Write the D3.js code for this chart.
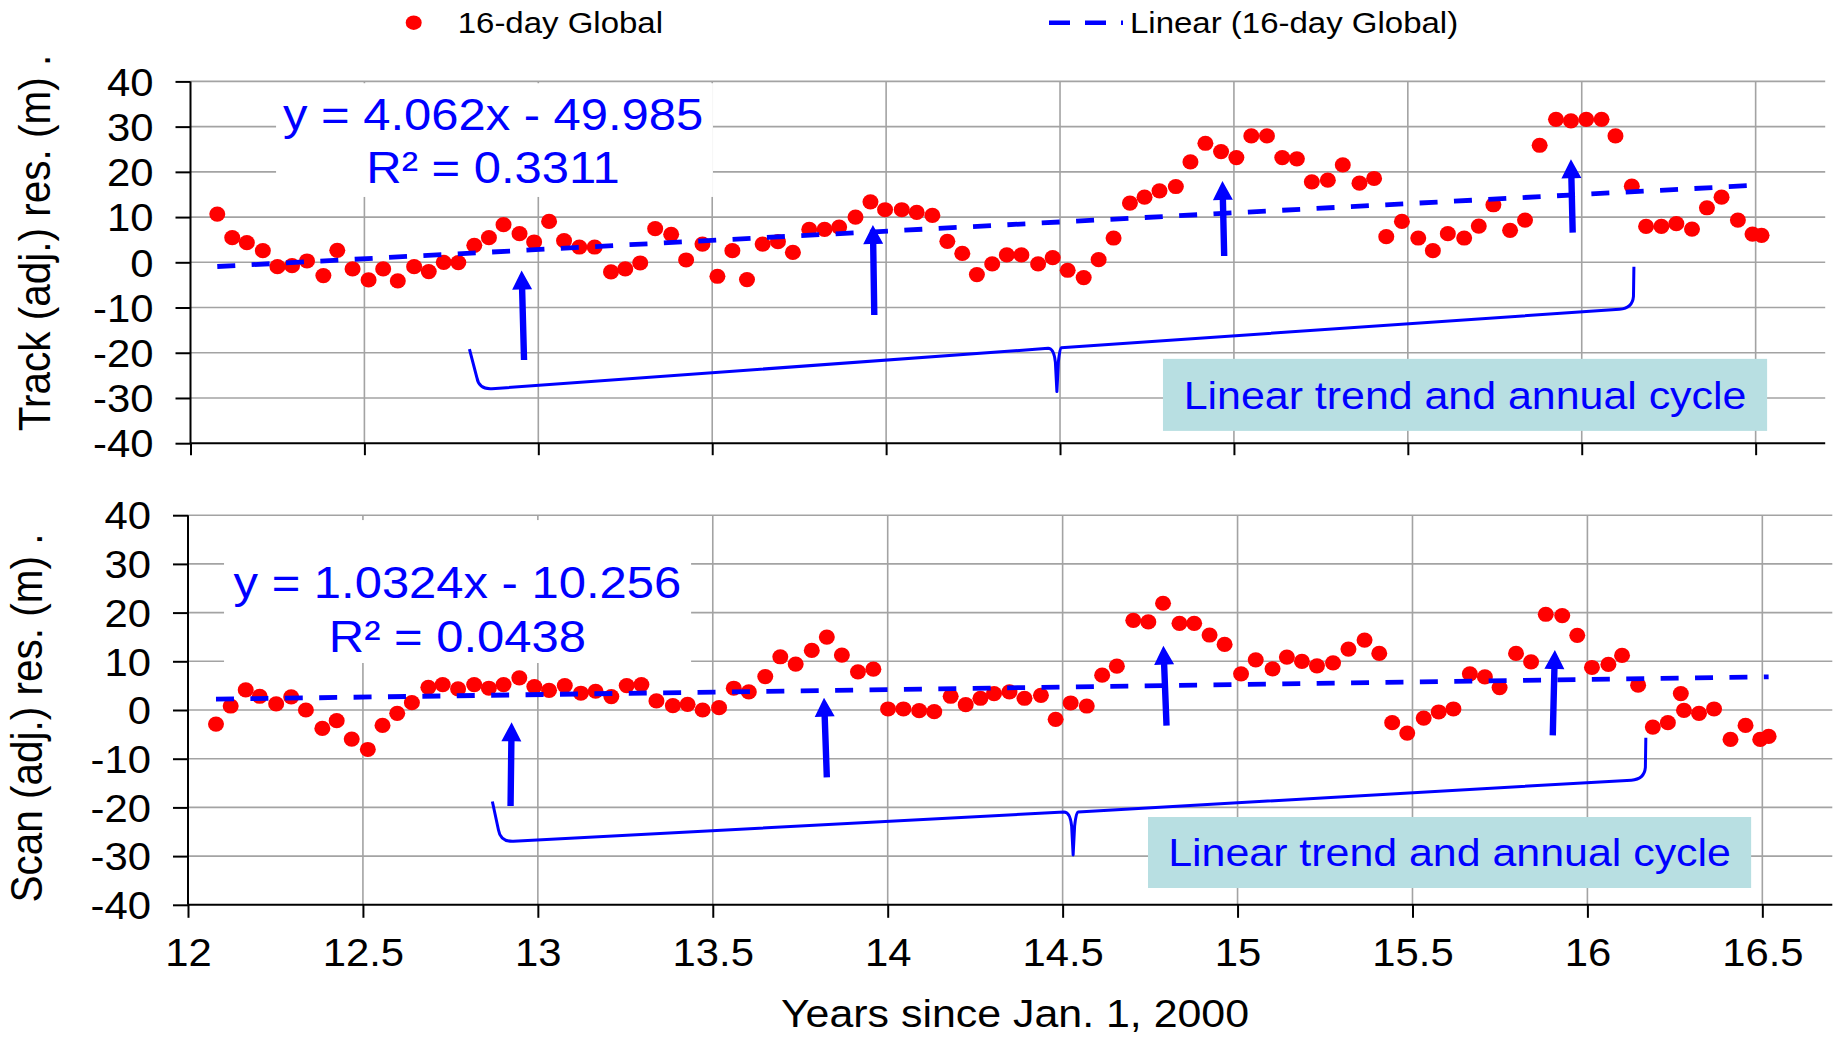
<!DOCTYPE html>
<html>
<head>
<meta charset="utf-8">
<script src="https://cdn.jsdelivr.net/npm/d3@7"></script>
<style>
  body { margin: 0; background: #fff; }
  svg { display: block; }
</style>
</head>
<body>
<svg id="chart" width="1836" height="1038"></svg>
<script>
// ---- data: 16-day global residuals, years since Jan. 1, 2000 ----
const trackYears = [12.077,12.12,12.162,12.208,12.25,12.292,12.335,12.382,12.422,12.466,12.512,12.554,12.596,12.643,12.685,12.728,12.77,12.816,12.858,12.9,12.946,12.988,13.031,13.074,13.118,13.162,13.209,13.25,13.293,13.336,13.382,13.425,13.472,13.515,13.558,13.6,13.645,13.689,13.732,13.779,13.823,13.865,13.912,13.955,13.997,14.045,14.088,14.133,14.176,14.219,14.261,14.305,14.347,14.389,14.437,14.479,14.522,14.568,14.611,14.654,14.701,14.743,14.786,14.833,14.875,14.918,14.963,15.007,15.05,15.095,15.139,15.181,15.224,15.27,15.313,15.361,15.403,15.438,15.483,15.53,15.572,15.615,15.662,15.704,15.746,15.794,15.837,15.879,15.926,15.969,16.013,16.057,16.097,16.144,16.185,16.229,16.272,16.317,16.36,16.402,16.449,16.491,16.517];
const trackValues = [10.66,5.44,4.34,2.57,-0.96,-0.74,0.29,-2.94,2.65,-1.47,-3.9,-1.47,-4.12,-0.96,-2.06,0.0,-0.07,3.75,5.44,8.31,6.32,4.49,9.04,4.78,3.38,3.38,-2.13,-1.47,-0.15,7.43,6.18,0.51,4.04,-3.09,2.57,-3.82,4.04,4.56,2.21,7.28,7.28,7.79,10.0,13.38,11.62,11.62,11.03,10.37,4.63,1.99,-2.72,-0.37,1.62,1.62,-0.37,1.03,-1.76,-3.38,0.59,5.37,13.09,14.41,15.81,16.76,22.2,26.32,24.49,23.16,27.94,27.94,23.16,22.87,17.79,18.16,21.54,17.5,18.53,5.66,9.04,5.37,2.57,6.32,5.37,8.01,12.72,7.06,9.34,25.88,31.62,31.25,31.62,31.62,27.94,16.84,7.94,7.94,8.53,7.35,12.06,14.41,9.34,6.25,5.96];

const scanYears = [12.08,12.122,12.165,12.205,12.252,12.295,12.337,12.384,12.425,12.468,12.514,12.556,12.598,12.64,12.687,12.728,12.772,12.818,12.86,12.902,12.947,12.99,13.032,13.077,13.123,13.165,13.21,13.254,13.296,13.339,13.386,13.428,13.471,13.518,13.56,13.603,13.65,13.693,13.737,13.783,13.826,13.869,13.915,13.959,14.001,14.045,14.09,14.133,14.18,14.223,14.265,14.304,14.348,14.391,14.438,14.48,14.523,14.569,14.613,14.655,14.702,14.745,14.787,14.834,14.876,14.92,14.963,15.01,15.052,15.1,15.141,15.184,15.227,15.273,15.317,15.363,15.405,15.442,15.485,15.532,15.575,15.617,15.664,15.707,15.749,15.796,15.839,15.881,15.928,15.971,16.013,16.06,16.099,16.145,16.187,16.23,16.267,16.276,16.319,16.362,16.409,16.452,16.494,16.518];
const scanValues = [-2.89,0.82,4.12,2.82,1.24,2.68,0,-3.78,-2.2,-5.98,-8.11,-3.16,-0.69,1.51,4.67,5.22,4.33,5.22,4.47,5.22,6.6,4.81,4.05,5.02,3.44,3.85,2.75,5.02,5.22,1.86,0.89,1.17,0,0.48,4.47,3.71,6.87,10.93,9.42,12.23,14.98,11.27,7.84,8.38,0.21,0.21,-0.14,-0.34,2.82,1.1,2.41,3.37,3.71,2.41,3.02,-1.92,1.44,0.82,7.15,9.0,18.42,18.08,21.92,17.8,17.8,15.4,13.47,7.42,10.31,8.45,10.86,9.97,9.07,9.69,12.51,14.36,11.62,-2.61,-4.74,-1.65,-0.41,0.21,7.42,6.8,4.6,11.62,9.9,19.66,19.38,15.33,8.73,9.35,11.2,5.09,-3.51,-2.61,3.37,-0.07,-0.69,0.21,-6.05,-3.16,-6.05,-5.43];

// least-squares fits shown on each panel
const trackFit = [4.062, -49.985, "0.3311"];   // slope, intercept, R²
const scanFit  = [1.0324, -10.256, "0.0438"];

// axis ticks
const xTicks = [12, 12.5, 13, 13.5, 14, 14.5, 15, 15.5, 16, 16.5];
const xTickLabels = ["12", "12.5", "13", "13.5", "14", "14.5", "15", "15.5", "16", "16.5"];
const yTicks = [-40, -30, -20, -10, 0, 10, 20, 30, 40];

// text
const seriesName = "16-day Global";
const trendName = "Linear (16-day Global)";
const xTitle = "Years since Jan. 1, 2000";
const trackTitle = "Track (adj.) res. (m) .";
const scanTitle = "Scan (adj.) res. (m) .";
const noteText = "Linear trend and annual cycle";

// annotations, in data units (years, metres)
// arrows: [tipYear, tipValue, tailYear, tailValue]
const trackArrows = [[12.952,-1.81,12.959,-21.6],[13.962,8.25,13.966,-11.66],[14.967,17.99,14.972,1.39],[15.969,22.79,15.974,6.55]];
const scanArrows  = [[12.925,-2.53,12.922,-19.71],[13.818,2.53,13.826,-13.82],[14.788,13.2,14.797,-3.22],[15.907,12.32,15.901,-5.2]];
// braces: left end, left corner, middle in, middle tip, middle out, right corner, right end
const trackBrace = [[12.802,-19.18],[12.832,-28.14],[14.466,-19.03],[14.491,-28.58],[14.503,-18.89],[16.143,-10.18],[16.150,-0.97]];
const scanBrace  = [[12.870,-18.79],[12.896,-27.1],[14.504,-20.94],[14.530,-29.77],[14.544,-20.94],[16.160,-14.27],[16.167,-5.69]];
// boxes: [x0, x1, yTop, yBottom]
const trackEqBox = [12.246, 13.502, 39.6, 14.45];
const scanEqBox  = [12.103, 13.438, 39.0, 9.65];
const trackNoteBox = [14.796, 16.533, -21.35, -37.28];
const scanNoteBox  = [14.744, 16.468, -21.97, -36.55];
// equation text anchor: [centerYear, baseline line 1, baseline line 2]
const trackEqPos = [12.870, 29.27, 17.61];
const scanEqPos  = [12.770, 22.94, 12.01];

// ---- drawing ----
const FONT = '"Liberation Sans", Arial, Helvetica, sans-serif';
const WIDEN = 1.1;               // horizontal widening applied to all lettering
const RED = "#ff0000", BLUE = "#0000ff", GRID = "#a3a3a3", NOTE_FILL = "#b8dfe2";

const svg = d3.select("#chart");
svg.append("rect").attr("width", 1836).attr("height", 1038).attr("fill", "#fff");

function label(g, x, y, str, size, anchor, color, rotate) {
  return g.append("text")
    .attr("transform", `translate(${x},${y}) scale(${WIDEN},1)` + (rotate ? ` rotate(${rotate})` : ""))
    .attr("text-anchor", anchor)
    .attr("font-family", FONT)
    .attr("font-size", size)
    .attr("fill", color)
    .text(str);
}

function fmtFit(f) {
  const sign = f[1] < 0 ? " - " : " + ";
  return "y = " + f[0] + "x" + sign + Math.abs(f[1]);
}

function drawPanel(p) {
  const x = d3.scaleLinear().domain([12, 16.7]).range(p.xRange);
  const y = d3.scaleLinear().domain([-40, 40]).range(p.yRange);
  const g = svg.append("g");

  // gridlines
  g.append("g").selectAll("line").data(yTicks.filter(v => v > -40)).join("line")
    .attr("x1", x(12)).attr("x2", x(16.7))
    .attr("y1", d => y(d)).attr("y2", d => y(d))
    .attr("stroke", GRID).attr("stroke-width", 1.6);
  g.append("g").selectAll("line").data(xTicks.filter(v => v > 12)).join("line")
    .attr("x1", d => x(d)).attr("x2", d => x(d))
    .attr("y1", y(40)).attr("y2", y(-40))
    .attr("stroke", GRID).attr("stroke-width", 1.6);

  // white panel behind the fit equation
  const eb = p.eqBox;
  g.append("rect").attr("x", x(eb[0])).attr("y", y(eb[2]))
    .attr("width", x(eb[1]) - x(eb[0])).attr("height", y(eb[3]) - y(eb[2]))
    .attr("fill", "#fff");

  // note box
  const nb = p.noteBox;
  g.append("rect").attr("x", x(nb[0])).attr("y", y(nb[2]))
    .attr("width", x(nb[1]) - x(nb[0])).attr("height", y(nb[3]) - y(nb[2]))
    .attr("fill", NOTE_FILL);
  label(g, (x(nb[0]) + x(nb[1])) / 2, (y(nb[2]) + y(nb[3])) / 2 + 14, noteText, 39, "middle", BLUE);

  // axes
  const yAxis = d3.axisLeft(y).tickValues(yTicks).tickSize(15).tickFormat(d => String(d));
  const ya = g.append("g").attr("transform", `translate(${x(12)},0)`).call(yAxis);
  ya.select(".domain").remove();
  ya.selectAll(".tick line").attr("stroke", "#000").attr("stroke-width", 2);
  ya.selectAll(".tick text")
    .attr("x", null).attr("dy", null)
    .attr("transform", `translate(-37,13.7) scale(${WIDEN},1)`)
    .attr("font-family", FONT).attr("font-size", 38).attr("fill", "#000");

  const xAxis = d3.axisBottom(x).tickValues(xTicks).tickSize(p.xTickLen)
    .tickFormat((d, i) => p.showXLabels ? xTickLabels[i] : "");
  const xa = g.append("g").attr("transform", `translate(0,${y(-40)})`).call(xAxis);
  xa.select(".domain").remove();
  xa.selectAll(".tick line").attr("stroke", "#000").attr("stroke-width", 2);
  xa.selectAll(".tick text")
    .attr("y", null).attr("dy", null)
    .attr("transform", `translate(0,61) scale(${WIDEN},1)`)
    .attr("font-family", FONT).attr("font-size", 38).attr("fill", "#000");

  g.append("line").attr("x1", x(12)).attr("x2", x(16.7)).attr("y1", y(-40)).attr("y2", y(-40))
    .attr("stroke", "#000").attr("stroke-width", 2);
  g.append("line").attr("x1", x(12)).attr("x2", x(12)).attr("y1", y(40)).attr("y2", y(-40))
    .attr("stroke", "#000").attr("stroke-width", 2);

  // axis title
  label(g, p.titlePos[0], p.titlePos[1], p.title, 40.5, "middle", "#000", -90);

  // data points
  g.append("g").selectAll("ellipse").data(p.years).join("ellipse")
    .attr("cx", d => x(d)).attr("cy", (d, i) => y(p.values[i]))
    .attr("rx", 8).attr("ry", 7.6).attr("fill", RED);

  // linear trend over the data span
  const ext = d3.extent(p.years);
  const f = p.fit;
  g.append("line")
    .attr("x1", x(ext[0])).attr("y1", y(f[0] * ext[0] + f[1]))
    .attr("x2", x(ext[1])).attr("y2", y(f[0] * ext[1] + f[1]))
    .attr("stroke", BLUE).attr("stroke-width", 4.8).attr("stroke-dasharray", "18 16.4");

  // fit equation
  const ep = p.eqPos;
  label(g, x(ep[0]), y(ep[1]), fmtFit(f), 44.5, "middle", BLUE);
  label(g, x(ep[0]), y(ep[2]), "R\u00B2 = " + f[2], 44.5, "middle", BLUE);

  // brace spanning the linear trend and annual cycle
  const b = p.brace.map(d => [x(d[0]), y(d[1])]);
  const slope = (b[5][1] - b[1][1]) / (b[5][0] - b[1][0]);
  const path = d3.path();
  path.moveTo(b[0][0], b[0][1]);
  path.lineTo(b[1][0] - 3, b[1][1] - 12);
  path.quadraticCurveTo(b[1][0] - 1, b[1][1], b[1][0] + 12, b[1][1] + slope * 12);
  path.lineTo(b[2][0], b[2][1]);
  path.quadraticCurveTo(b[3][0] - 3, b[2][1], b[3][0] - 1.5, b[2][1] + 14);
  path.lineTo(b[3][0], b[3][1]);
  path.lineTo(b[3][0] + 1.5, b[4][1] + 14);
  path.quadraticCurveTo(b[3][0] + 3, b[4][1], b[4][0], b[4][1]);
  path.lineTo(b[5][0] - 12, b[5][1] - slope * 12);
  path.quadraticCurveTo(b[5][0] + 1, b[5][1], b[5][0] + 2, b[5][1] - 12);
  path.lineTo(b[6][0], b[6][1]);
  g.append("path").attr("d", path.toString())
    .attr("fill", "none").attr("stroke", BLUE).attr("stroke-width", 3)
    .attr("stroke-linejoin", "round");

  // arrows marking each annual peak
  p.arrows.forEach(a => {
    const tip = [x(a[0]), y(a[1])], tail = [x(a[2]), y(a[3])];
    const dx = tip[0] - tail[0], dy = tip[1] - tail[1];
    const len = Math.hypot(dx, dy);
    const ux = dx / len, uy = dy / len, nx = -uy, ny = ux;
    const head = 19, hw = 10, sw = 3.2;
    const nk = [tip[0] - ux * head, tip[1] - uy * head];
    const pts = [
      [tail[0] + nx * sw, tail[1] + ny * sw],
      [nk[0] + nx * sw, nk[1] + ny * sw],
      [nk[0] + nx * hw, nk[1] + ny * hw],
      tip,
      [nk[0] - nx * hw, nk[1] - ny * hw],
      [nk[0] - nx * sw, nk[1] - ny * sw],
      [tail[0] - nx * sw, tail[1] - ny * sw]
    ];
    g.append("polygon").attr("points", pts.map(q => q.join(",")).join(" ")).attr("fill", BLUE);
  });
}

drawPanel({
  years: trackYears, values: trackValues, fit: trackFit,
  xRange: [190.5, 1825.2], yRange: [443.2, 81.4], xTickLen: 12, showXLabels: false,
  title: trackTitle, titlePos: [50, 243],
  eqBox: trackEqBox, eqPos: trackEqPos, noteBox: trackNoteBox,
  arrows: trackArrows, brace: trackBrace
});
drawPanel({
  years: scanYears, values: scanValues, fit: scanFit,
  xRange: [188, 1832.3], yRange: [904.8, 515.2], xTickLen: 13, showXLabels: true,
  title: scanTitle, titlePos: [42, 718],
  eqBox: scanEqBox, eqPos: scanEqPos, noteBox: scanNoteBox,
  arrows: scanArrows, brace: scanBrace
});

// x axis title
label(svg, 1015, 1027, xTitle, 39, "middle", "#000");

// legend
const legend = svg.append("g");
legend.append("ellipse").attr("cx", 413.7).attr("cy", 22.7).attr("rx", 8).attr("ry", 7.2).attr("fill", RED);
label(legend, 457.7, 32.5, seriesName, 30, "start", "#000");
legend.append("line").attr("x1", 1049).attr("x2", 1123).attr("y1", 22.7).attr("y2", 22.7)
  .attr("stroke", BLUE).attr("stroke-width", 4.5).attr("stroke-dasharray", "21 15");
label(legend, 1130, 32.5, trendName, 30, "start", "#000");
</script>
</body>
</html>
